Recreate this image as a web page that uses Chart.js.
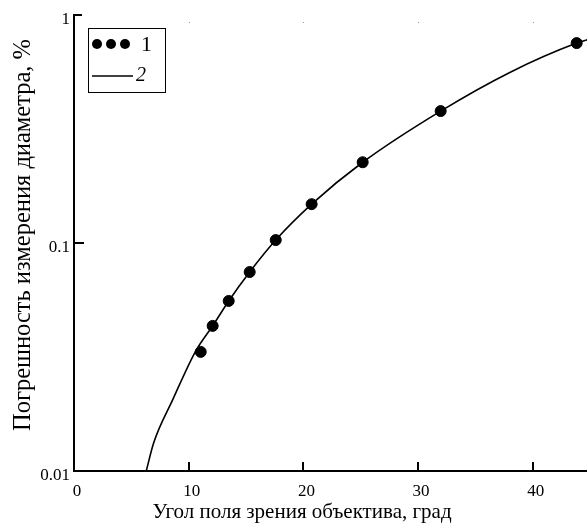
<!DOCTYPE html>
<html>
<head>
<meta charset="utf-8">
<script src="https://cdn.jsdelivr.net/npm/chart.js@4.4.1/dist/chart.umd.min.js"></script>
<style>
  body { margin: 0; background: #fff; }
  #wrap { width: 587px; height: 527px; position: relative; }
</style>
</head>
<body>
<div id="wrap"><canvas id="errChart"></canvas></div>
<script>
// measured points (series 1)
const pointX = [11.05, 12.09, 13.49, 15.32, 17.59, 20.72, 25.17, 31.97, 43.83];
const pointY = [0.0333, 0.0433, 0.0557, 0.0746, 0.103, 0.148, 0.226, 0.379, 0.753];

// calculated curve (series 2)
const curveX = [6.3, 6.95, 8.6, 10.6, 12.09, 13.49, 15.32, 17.59, 20.72, 25.17, 31.97, 38, 43.83, 44.8];
const curveY = [0.01, 0.0133, 0.0205, 0.0335, 0.0433, 0.0557, 0.0746, 0.103, 0.148, 0.226, 0.379, 0.56, 0.753, 0.78];

const xTicks = [0, 10, 20, 30, 40];
const yTicks = [0.01, 0.1, 1];
const legendLabels = ['1', '2'];
const xTitle = 'Угол поля зрения объектива, град';
const yTitle = 'Погрешность измерения диаметра, %';

const serif = '"Liberation Serif", "Times New Roman", serif';

const extras = {
    id: 'extras',
    afterDraw(chart) {
        const c = chart.ctx;
        const xs = chart.scales.x, ys = chart.scales.y;
        const area = chart.chartArea;
        c.save();
        c.strokeStyle = '#000';
        c.lineWidth = 2;
        // inward tick marks
        xTicks.forEach(v => {
            if (v === 0) return;
            const px = Math.round(xs.getPixelForValue(v));
            c.beginPath();
            c.moveTo(px, area.bottom);
            c.lineTo(px, area.bottom - 9);
            c.stroke();
            c.fillStyle = '#999';
            c.fillRect(px, 22, 1, 1);
        });
        yTicks.forEach(v => {
            if (v === 0.01) return;
            const py = Math.round(ys.getPixelForValue(v));
            c.beginPath();
            c.moveTo(area.left, py);
            c.lineTo(area.left + (v === 1 ? 8 : 10), py);
            c.stroke();
        });

        // axis titles
        c.fillStyle = '#000';
        c.textAlign = 'center';
        c.textBaseline = 'middle';
        c.font = '21px ' + serif;
        c.fillText(xTitle, 302, 512);
        c.save();
        c.translate(24, 235);
        c.rotate(-Math.PI / 2);
        c.font = '24.5px ' + serif;
        c.fillText(yTitle, 0, 0);
        c.restore();

        // legend
        c.lineWidth = 1;
        c.strokeRect(88.5, 28.5, 77, 64);
        [97, 111, 125].forEach(x => {
            c.beginPath();
            c.arc(x, 44, 5, 0, Math.PI * 2);
            c.fill();
        });
        c.textAlign = 'left';
        c.font = '22px ' + serif;
        c.fillText(legendLabels[0], 141, 45);
        c.lineWidth = 1.5;
        c.beginPath();
        c.moveTo(92, 76);
        c.lineTo(133, 76);
        c.stroke();
        c.font = 'italic 20px ' + serif;
        c.fillText(legendLabels[1], 136, 76);
        c.restore();
    }
};

new Chart(document.getElementById('errChart'), {
    type: 'scatter',
    data: {
        datasets: [{
            label: legendLabels[1],
            data: curveX.map((x, i) => ({ x: x, y: curveY[i] })),
            showLine: true,
            borderColor: '#000',
            borderWidth: 1.6,
            pointRadius: 0,
            cubicInterpolationMode: 'monotone'
        }, {
            label: legendLabels[0],
            data: pointX.map((x, i) => ({ x: x, y: pointY[i] })),
            backgroundColor: '#000',
            borderColor: '#000',
            pointRadius: 5.5,
            showLine: false
        }]
    },
    options: {
        responsive: true,
        maintainAspectRatio: false,
        animation: false,
        layout: { autoPadding: false, padding: { top: 15, left: 0, right: 0, bottom: 0 } },
        plugins: {
            legend: { display: false },
            tooltip: { enabled: false }
        },
        scales: {
            x: {
                type: 'linear',
                min: 0,
                max: 44.73,
                afterBuildTicks: s => { s.ticks = xTicks.map(v => ({ value: v })); },
                afterFit: s => { s.height = 56; s.paddingLeft = 0; s.paddingRight = 0; },
                grid: { display: false, drawTicks: false },
                border: { display: true, color: '#000', width: 2 },
                ticks: {
                    color: '#000',
                    font: { family: serif, size: 17 },
                    padding: 10,
                    labelOffset: 3,
                    maxRotation: 0,
                    autoSkip: false
                }
            },
            y: {
                type: 'logarithmic',
                min: 0.01,
                max: 1,
                afterBuildTicks: s => { s.ticks = yTicks.map(v => ({ value: v })); },
                afterFit: s => { s.width = 74; s.paddingTop = 0; s.paddingBottom = 0; },
                grid: { display: false, drawTicks: false },
                border: { display: true, color: '#000', width: 2 },
                ticks: {
                    color: '#000',
                    font: { family: serif, size: 17 },
                    padding: 4,
                    labelOffset: 5,
                    autoSkip: false,
                    callback: v => String(v)
                }
            }
        }
    },
    plugins: [extras]
});
</script>
</body>
</html>
